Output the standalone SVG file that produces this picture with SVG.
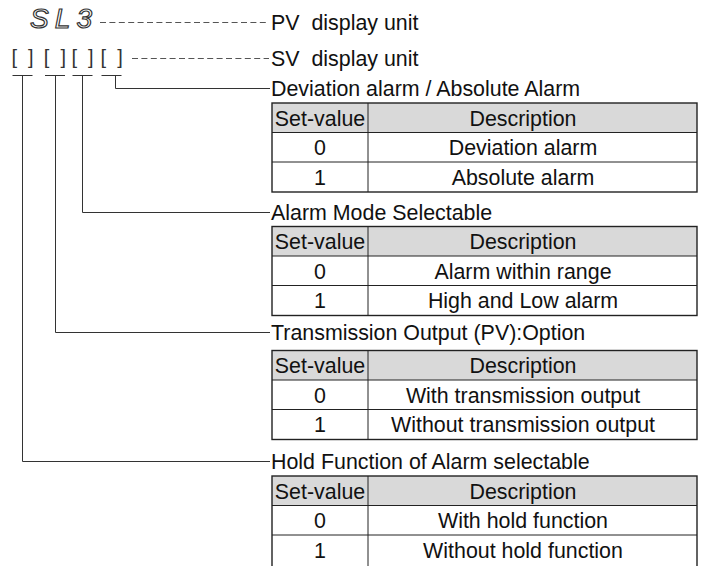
<svg xmlns="http://www.w3.org/2000/svg" width="704" height="566" viewBox="0 0 704 566">
<style>
.t{font-family:"Liberation Sans",Arial,sans-serif;font-size:21.4px;fill:#111}
.c{text-anchor:middle}
.hdr{fill:#d9d9d9;stroke:none}
.bd{fill:none;stroke:#222;stroke-width:1.4}
.ln{fill:none;stroke:#222;stroke-width:1}
.conn{fill:none;stroke:#333;stroke-width:1}
.dash{fill:none;stroke:#555;stroke-width:1;stroke-dasharray:6 3.4}
.br{font-family:"Liberation Sans",Arial,sans-serif;font-size:20px;fill:#333}
.seg{font-family:"Liberation Sans",Arial,sans-serif;font-size:28px;font-style:italic;fill:#fff;stroke:#333;stroke-width:1.2}
</style>
<rect width="704" height="566" fill="#fff"/>
<g id="display">
  <text class="seg" x="30" y="27.5" textLength="62" lengthAdjust="spacing">SL3</text>
  <text class="br" x="11.5 28" y="64">[]</text>
  <text class="br" x="43.8 60.5" y="64">[]</text>
  <text class="br" x="71.5 88" y="64">[]</text>
  <text class="br" x="100.5 117.2" y="64">[]</text>
</g>
<g id="connectors">
  <path class="dash" d="M100 22.5H269"/>
  <path class="dash" d="M132 58.5H269"/>
  <path class="conn" d="M12.5 75.5H32.5M45 75.5H65M72.5 75.5H92.5M101.5 75.5H121.5"/>
  <path class="conn" d="M115.5 75.5V88.5H270"/>
  <path class="conn" d="M82.5 75.5V212.5H270"/>
  <path class="conn" d="M55.5 75.5V332.5H270"/>
  <path class="conn" d="M22.5 75.5V461.5H270"/>
</g>
<g id="label-pv"><text class="t" x="271" y="30" xml:space="preserve">PV  display unit</text></g>
<g id="label-sv"><text class="t" x="271" y="66" xml:space="preserve">SV  display unit</text></g>
<g id="label-dev"><text class="t" x="271" y="96">Deviation alarm / Absolute Alarm</text></g>
<g id="table-dev" transform="translate(0,103)">
  <rect class="hdr" x="272" y="0" width="425" height="29.5"/>
  <path class="ln" d="M272 29.5H697M272 59H697M368 0V89"/>
  <rect class="bd" x="272" y="0" width="425" height="89"/>
  <text class="t c" x="320" y="22.5">Set-value</text>
  <text class="t c" x="523" y="22.5">Description</text>
  <text class="t c" x="320" y="52">0</text>
  <text class="t c" x="523" y="52">Deviation alarm</text>
  <text class="t c" x="320" y="81.5">1</text>
  <text class="t c" x="523" y="81.5">Absolute alarm</text>
</g>
<g id="label-mode"><text class="t" x="271" y="220">Alarm Mode Selectable</text></g>
<g id="table-mode" transform="translate(0,226.5)">
  <rect class="hdr" x="272" y="0" width="425" height="29.5"/>
  <path class="ln" d="M272 29.5H697M272 59H697M368 0V89"/>
  <rect class="bd" x="272" y="0" width="425" height="89"/>
  <text class="t c" x="320" y="22.5">Set-value</text>
  <text class="t c" x="523" y="22.5">Description</text>
  <text class="t c" x="320" y="52">0</text>
  <text class="t c" x="523" y="52">Alarm within range</text>
  <text class="t c" x="320" y="81.5">1</text>
  <text class="t c" x="523" y="81.5">High and Low alarm</text>
</g>
<g id="label-trans"><text class="t" x="271" y="340">Transmission Output (PV):Option</text></g>
<g id="table-trans" transform="translate(0,350.5)">
  <rect class="hdr" x="272" y="0" width="425" height="29.5"/>
  <path class="ln" d="M272 29.5H697M272 59H697M368 0V89"/>
  <rect class="bd" x="272" y="0" width="425" height="89"/>
  <text class="t c" x="320" y="22.5">Set-value</text>
  <text class="t c" x="523" y="22.5">Description</text>
  <text class="t c" x="320" y="52">0</text>
  <text class="t c" x="523" y="52">With transmission output</text>
  <text class="t c" x="320" y="81.5">1</text>
  <text class="t c" x="523" y="81.5">Without transmission output</text>
</g>
<g id="label-hold"><text class="t" x="271" y="469">Hold Function of Alarm selectable</text></g>
<g id="table-hold" transform="translate(0,476)">
  <rect class="hdr" x="272" y="0" width="425" height="29.5"/>
  <path class="ln" d="M272 29.5H697M272 59H697M368 0V92"/>
  <rect class="bd" x="272" y="0" width="425" height="94"/>
  <text class="t c" x="320" y="22.5">Set-value</text>
  <text class="t c" x="523" y="22.5">Description</text>
  <text class="t c" x="320" y="52">0</text>
  <text class="t c" x="523" y="52">With hold function</text>
  <text class="t c" x="320" y="81.5">1</text>
  <text class="t c" x="523" y="81.5">Without hold function</text>
</g>
</svg>
